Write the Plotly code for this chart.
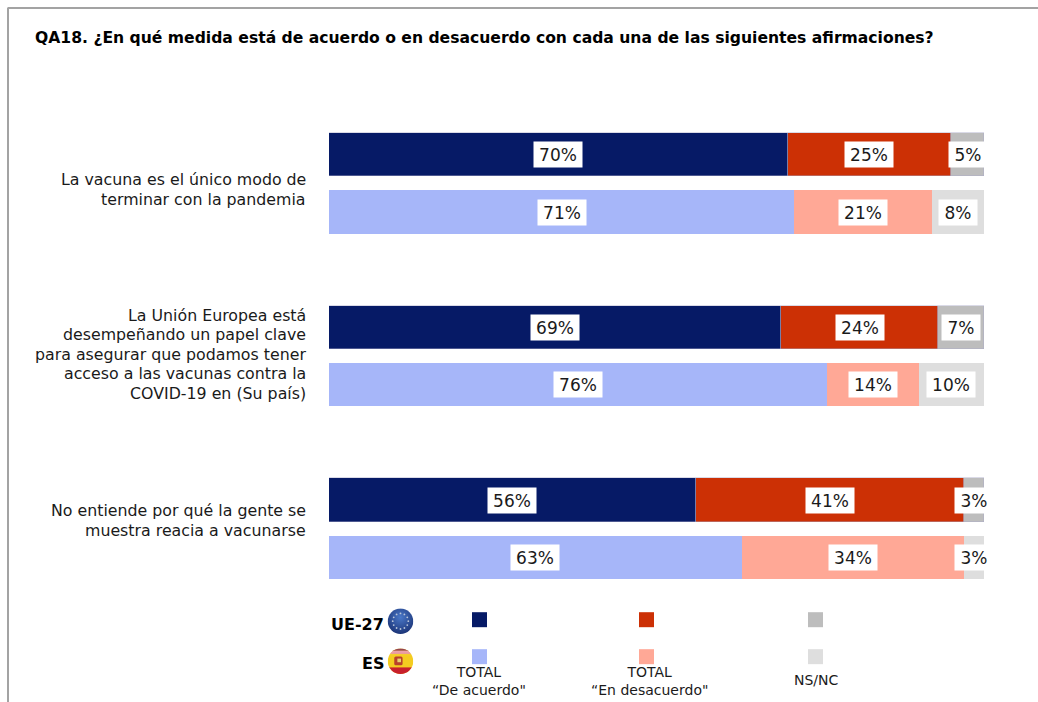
import base64
import plotly.graph_objects as go

title = "QA18. ¿En qué medida está de acuerdo o en desacuerdo con cada una de las siguientes afirmaciones?"
categories = [
    "La vacuna es el único modo de<br>terminar con la pandemia",
    "La Unión Europea está<br>desempeñando un papel clave<br>para asegurar que podamos tener<br>acceso a las vacunas contra la<br>COVID-19 en (Su país)",
    "No entiende por qué la gente se<br>muestra reacia a vacunarse",
]
ue_agree = [70, 69, 56]
ue_disagree = [25, 24, 41]
ue_nsnc = [5, 7, 3]
es_agree = [71, 76, 63]
es_disagree = [21, 14, 34]
es_nsnc = [8, 10, 3]
legend_labels = ["TOTAL<br>“De acuerdo\"", "TOTAL<br>“En desacuerdo\"", "NS/NC"]
ue_colors = ["#061A66", "#CC3005", "#BDBDBD"]
es_colors = ["#A6B6F9", "#FFA896", "#DEDEDE"]

W, H = 1038, 702
L, R, T, B = 329, 984, 96.5, 614.8
FONT = "DejaVu Sans, Verdana, sans-serif"
TXT = "#1a1a1a"


def px(x):
    return (x - L) / (R - L)


def py(y):
    return (B - y) / (B - T)


GROUP_PX = (B - T) / 3
OFFSET = 28.68 / GROUP_PX
BAR_W = 43.4 / GROUP_PX
groups = list(range(len(categories)))

fig = go.Figure()
annotations = []


def add_row(values, colors, delta, edge):
    base = [0] * len(groups)
    for vals, col in zip(values, colors):
        ys = [g + delta for g in groups]
        fig.add_trace(go.Bar(
            x=vals, y=ys, orientation="h", width=BAR_W, showlegend=False,
            marker=dict(color=col, line=dict(width=0.8 if edge else 0, color=edge or col)),
            hoverinfo="x",
        ))
        for b, v, y in zip(base, vals, ys):
            annotations.append(dict(
                x=b + v / 2, y=y, xref="x", yref="y", text=f"{v}%", showarrow=False,
                bgcolor="white", width=46 if v >= 10 else 36, height=23,
                font=dict(family=FONT, size=17, color=TXT),
            ))
        base = [b + v for b, v in zip(base, vals)]


add_row([ue_agree, ue_disagree, ue_nsnc], ue_colors, -OFFSET, "rgba(170,170,200,0.55)")
add_row([es_agree, es_disagree, es_nsnc], es_colors, OFFSET, None)

# category labels, one text per line so the line pitch follows the reference
for cat, mid in zip(categories, (189, 354, 520)):
    lines = cat.split("<br>")
    for i, line in enumerate(lines):
        annotations.append(dict(
            x=px(308), y=py(mid + (i - (len(lines) - 1) / 2) * 19.6), xref="paper", yref="paper",
            text=line, showarrow=False, xanchor="right", yanchor="middle",
            font=dict(family=FONT, size=15.8, color=TXT),
        ))

shapes = [
    dict(type="line", xref="paper", yref="paper", x0=px(8), x1=px(W), y0=py(7.5), y1=py(7.5),
         line=dict(color="#A3A3A3", width=2), layer="below"),
    dict(type="line", xref="paper", yref="paper", x0=px(8), x1=px(8), y0=py(7), y1=py(H),
         line=dict(color="#A3A3A3", width=2), layer="below"),
]

# legend swatches and labels
for cx, lx, cu, ce, lab, ly in zip([479.5, 646.5, 815.5], [479, 649, 816], ue_colors, es_colors,
                                   legend_labels, [681, 681, 680]):
    for col, cy in ((cu, 619.5), (ce, 656.5)):
        shapes.append(dict(type="rect", xref="paper", yref="paper", line=dict(width=0),
                           x0=px(cx - 7.5), x1=px(cx + 7.5), y0=py(cy - 7.5), y1=py(cy + 7.5),
                           fillcolor=col))
    annotations.append(dict(x=px(lx), y=py(ly), xref="paper", yref="paper", text=lab,
                            showarrow=False, align="center", xanchor="center", yanchor="middle",
                            font=dict(family=FONT, size=14, color=TXT)))

for lab, cy in (("UE-27", 624), ("ES", 663)):
    annotations.append(dict(x=px(386), y=py(cy), xref="paper", yref="paper", text=f"<b>{lab}</b>",
                            showarrow=False, xanchor="right", yanchor="middle",
                            font=dict(family=FONT, size=16, color="#000000")))

eu_dots = "".join(
    f'<circle cx="{50 + 30 * dx:.1f}" cy="{50 + 30 * dy:.1f}" r="3.5" fill="#b8c4d8"/>'
    for dx, dy in [(0, -1), (.5, -.87), (.87, -.5), (1, 0), (.87, .5), (.5, .87), (0, 1),
                   (-.5, .87), (-.87, .5), (-1, 0), (-.87, -.5), (-.5, -.87)]
)
eu_svg = f'''<svg xmlns="http://www.w3.org/2000/svg" viewBox="0 0 100 100"><defs>
<radialGradient id="g" cx="50%" cy="35%" r="65%"><stop offset="0" stop-color="#4a78c8"/><stop offset="1" stop-color="#1c3578"/></radialGradient>
</defs><circle cx="50" cy="50" r="49" fill="url(#g)"/>{eu_dots}</svg>'''
es_svg = '''<svg xmlns="http://www.w3.org/2000/svg" viewBox="0 0 100 100"><defs>
<clipPath id="c"><circle cx="50" cy="50" r="49"/></clipPath>
<linearGradient id="g" x1="0" y1="0" x2="0" y2="1"><stop offset="0" stop-color="#fff" stop-opacity=".25"/><stop offset=".3" stop-color="#fff" stop-opacity="0"/></linearGradient>
</defs><g clip-path="url(#c)"><rect width="100" height="100" fill="#f4cc20"/>
<rect width="100" height="10" fill="#7a1420"/><rect y="10" width="100" height="12" fill="#e8909a"/><rect y="74" width="100" height="26" fill="#c8202c"/>
<rect x="26" y="32" width="32" height="34" rx="6" fill="#b8402c"/><rect x="38" y="40" width="14" height="14" fill="#e8d070"/>
<rect y="0" width="100" height="100" fill="url(#g)"/></g></svg>'''


def uri(svg):
    return "data:image/svg+xml;base64," + base64.b64encode(svg.encode()).decode()


images = [
    dict(source=uri(s), xref="paper", yref="paper", x=px(387.5), y=py(cy - 13), sizex=26 / (R - L),
         sizey=26 / (B - T), xanchor="left", yanchor="top", sizing="stretch", layer="above")
    for s, cy in ((eu_svg, 621), (es_svg, 661))
]

fig.update_layout(
    width=W, height=H, autosize=False, barmode="stack", bargap=0,
    margin=dict(l=L, r=W - R, t=T, b=H - B, pad=0),
    paper_bgcolor="white", plot_bgcolor="white",
    title=dict(text=f"<b>{title}</b>", xref="container", yref="container", x=35 / W,
               y=1 - 38 / H, xanchor="left", yanchor="middle",
               font=dict(family=FONT, size=15.6, color="#000000")),
    xaxis=dict(range=[0, 100], visible=False, fixedrange=True),
    yaxis=dict(range=[2.5, -0.5], visible=False, fixedrange=True),
    shapes=shapes, annotations=annotations, images=images,
)

fig.write_html("out.html", post_script="document.body.style.margin='0';",
               config={"displayModeBar": False})
